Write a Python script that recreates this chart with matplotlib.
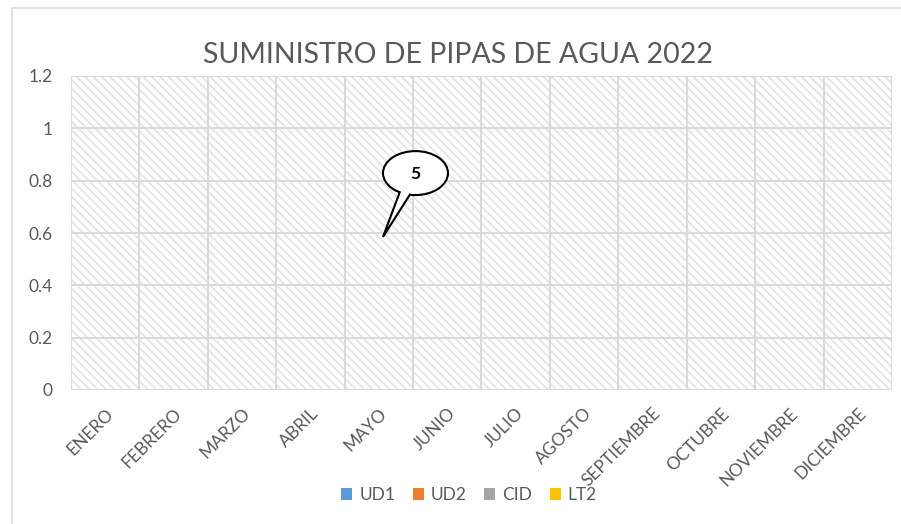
import numpy as np
import matplotlib
matplotlib.use("Agg")
import matplotlib.pyplot as plt
from matplotlib.patches import Ellipse, Polygon, Rectangle
from matplotlib.lines import Line2D

# ---------------- data ----------------
months = ["ENERO", "FEBRERO", "MARZO", "ABRIL", "MAYO", "JUNIO", "JULIO",
          "AGOSTO", "SEPTIEMBRE", "OCTUBRE", "NOVIEMBRE", "DICIEMBRE"]
series_names = ["UD1", "UD2", "CID", "LT2"]
ud1 = [0, 0, 0, 0, 0, 0, 0, 0, 0, 0, 0, 0]
ud2 = [0, 0, 0, 0, 0, 0, 0, 0, 0, 0, 0, 0]
cid = [0, 0, 0, 0, 0, 0, 0, 0, 0, 0, 0, 0]
lt2 = [0, 0, 0, 0, 0, 0, 0, 0, 0, 0, 0, 0]
y_ticks = [0, 0.2, 0.4, 0.6, 0.8, 1.0, 1.2]
y_tick_labels = ["0", "0.2", "0.4", "0.6", "0.8", "1", "1.2"]
title = "SUMINISTRO DE PIPAS DE AGUA 2022"
callout_text = "5"

colors = ["#5B9BD5", "#ED7D31", "#A5A5A5", "#FFC000"]
text_gray = "#595959"
grid_gray = "#D9D9D9"
hatch_gray = "#E2E2E2"

plt.rcParams['font.family'] = ['Lato', 'DejaVu Sans']
plt.rcParams['hatch.linewidth'] = 1.2
plt.rcParams['hatch.color'] = hatch_gray

W, H = 901, 524
fig = plt.figure(figsize=(W / 100, H / 100), dpi=100)
fig.patch.set_facecolor("white")

# chart border
fig.patches.append(Rectangle((12 / W, -0.05), 1.1, 1 - 8 / H + 0.05,
                             transform=fig.transFigure, fill=False,
                             edgecolor=grid_gray, linewidth=1.2))

L, R, T, B = 71, 892, 76, 390
ax = fig.add_axes([L / W, 1 - B / H, (R - L) / W, (B - T) / H])
ax.set_facecolor("white")

# hatched plot area
ax.add_patch(Rectangle((0, 0), 1, 1, transform=ax.transAxes, facecolor="white",
                       hatch="\\\\\\\\", edgecolor=hatch_gray, linewidth=0, zorder=0))

x = np.arange(len(months))
bw = 0.8 / 4
for i, (name, vals) in enumerate(zip(series_names, [ud1, ud2, cid, lt2])):
    ax.bar(x - 0.4 + bw * (i + 0.5), vals, width=bw, color=colors[i],
           linewidth=0, label=name, zorder=3)

ax.set_xlim(-0.5, len(months) - 0.5)
ax.set_ylim(0, 1.2)
ax.set_yticks(y_ticks)
ax.set_yticklabels(y_tick_labels)
ax.set_xticks(x)
ax.set_xticklabels(months, rotation=45, ha="right", rotation_mode="anchor")
ax.tick_params(axis="both", length=0, colors=text_gray)
ax.tick_params(axis="y", pad=13, labelsize=12.5)
ax.tick_params(axis="x", pad=11, labelsize=12.5)

# gridlines
for yv in y_ticks:
    ax.axhline(yv, color=grid_gray, linewidth=1.4, zorder=1)
for xv in np.arange(-0.5, len(months) + 0.5, 1):
    ax.axvline(xv, color=grid_gray, linewidth=1.4, zorder=1)
for s in ax.spines.values():
    s.set_visible(False)

# title
fig.text(458 / W, 1 - 55 / H, title, ha="center", va="center",
         fontsize=20.5, color=text_gray)

# callout
cx, cy, a, b = 4.535, 0.829, 0.475, 0.084
ell = Ellipse((cx, cy), 2 * a, 2 * b, facecolor="white", edgecolor="black",
              linewidth=1.5, zorder=5)
ax.add_patch(ell)
t1, t2 = np.deg2rad(241), np.deg2rad(260)
p1 = (cx + a * np.cos(t1), cy + b * np.sin(t1))
p2 = (cx + a * np.cos(t2), cy + b * np.sin(t2))
tip = (4.06, 0.585)
inner1 = (cx + 0.7 * a * np.cos(t1), cy + 0.7 * b * np.sin(t1))
inner2 = (cx + 0.7 * a * np.cos(t2), cy + 0.7 * b * np.sin(t2))
ax.add_patch(Polygon([tip, p1, inner1, inner2, p2], closed=True,
                     facecolor="white", edgecolor="none", zorder=6))
ax.add_line(Line2D([p1[0], tip[0], p2[0]], [p1[1], tip[1], p2[1]],
                   color="black", linewidth=1.5, zorder=7,
                   solid_joinstyle="miter"))
ax.text(cx, cy - 0.005, callout_text, ha="center", va="center",
        fontsize=12.5, fontweight="bold", color="black", zorder=8)

# legend
handles = [Rectangle((0, 0), 1, 1, facecolor=c, edgecolor="none") for c in colors]
leg = fig.legend(handles, series_names, loc="center", ncol=4,
                 bbox_to_anchor=(469 / W, 1 - 495 / H), frameon=False,
                 fontsize=12.5, handlelength=0.65, handleheight=0.65,
                 handletextpad=0.4, columnspacing=1.0, labelcolor=text_gray)

fig.savefig("out.png", dpi=100)
